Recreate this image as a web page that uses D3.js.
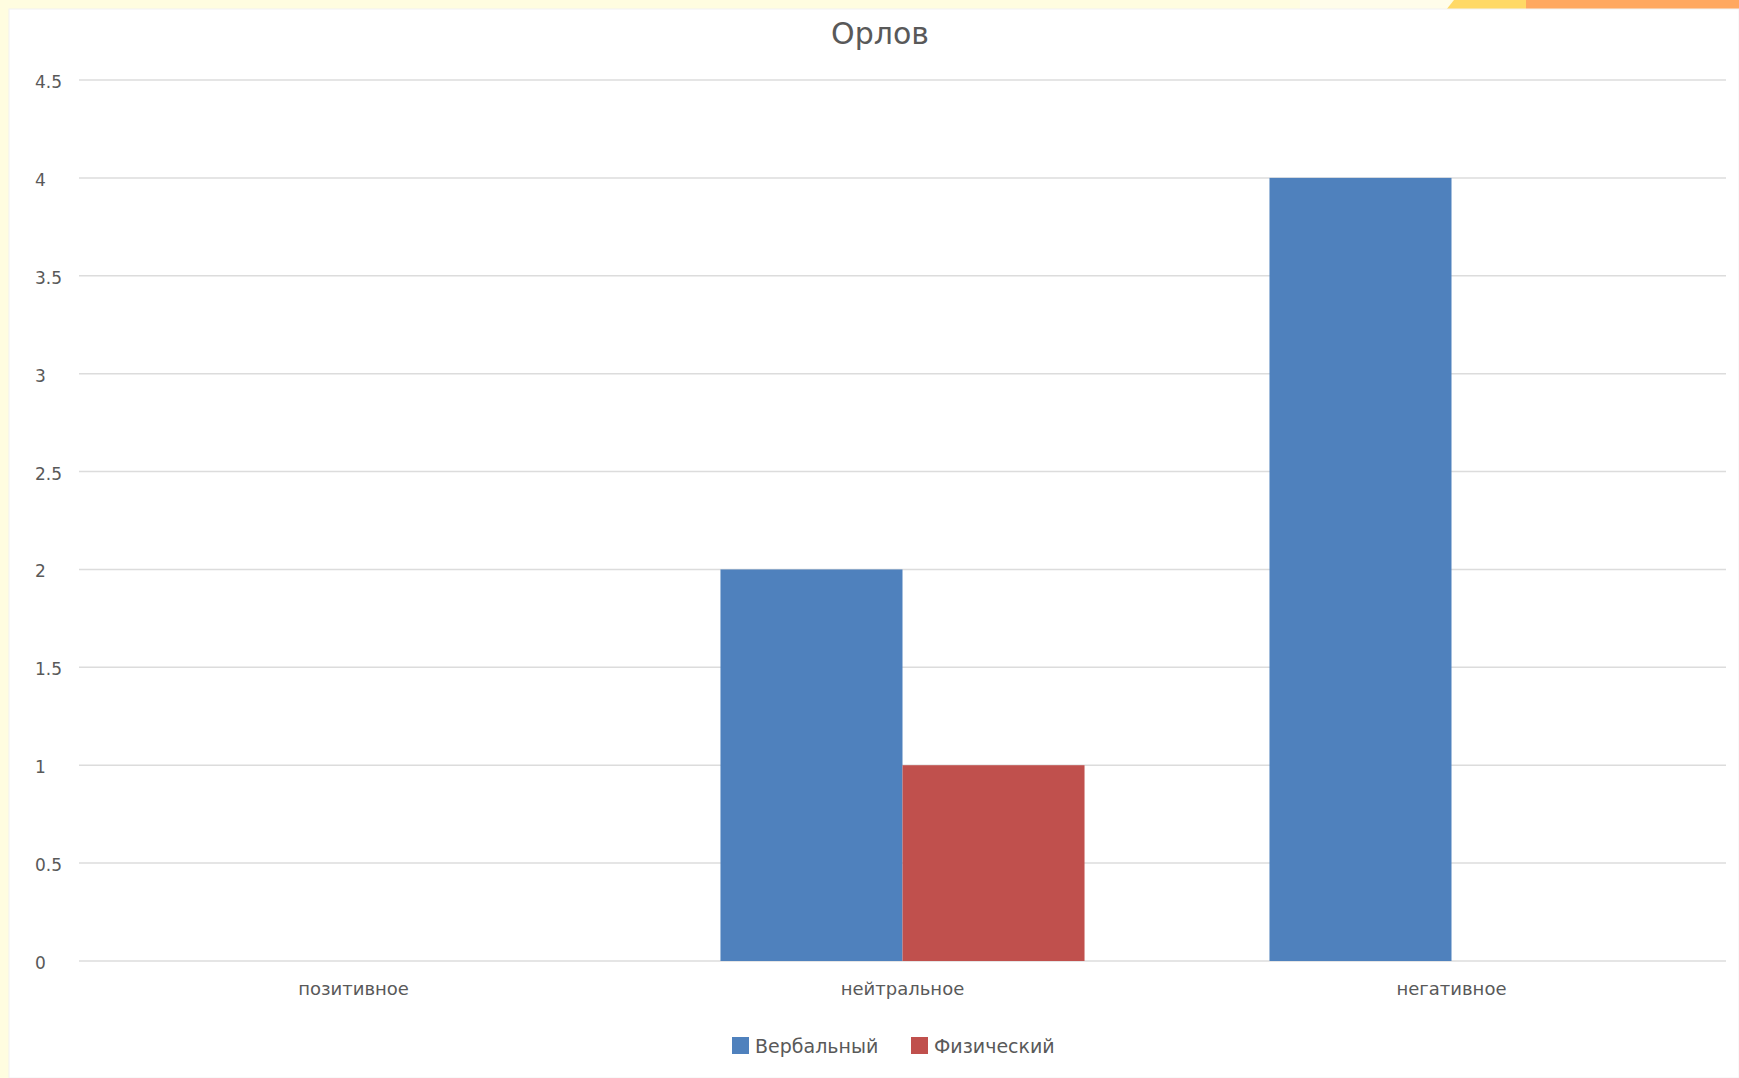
<!DOCTYPE html>
<html>
<head>
<meta charset="utf-8">
<script src="https://cdn.jsdelivr.net/npm/d3@7"></script>
<style>
  html, body { margin: 0; padding: 0; background: #fffde3; }
  svg { display: block; }
</style>
</head>
<body>
<svg id="chart"></svg>
<script>
// data
const categories = ['позитивное', 'нейтральное', 'негативное'];
const seriesNames = ['Вербальный', 'Физический'];
const verbalValues = [0, 2, 4];
const physicalValues = [0, 1, 0];
const yTicks = [0, 0.5, 1, 1.5, 2, 2.5, 3, 3.5, 4, 4.5];
const chartTitle = 'Орлов';

const W = 1739, H = 1078;
const colors = { 'Вербальный': '#4f81bd', 'Физический': '#c0504d' };
const FONT = '"DejaVu Sans", Verdana, sans-serif';

const svg = d3.select('#chart')
    .attr('width', W)
    .attr('height', H);

// slide background: yellow frame + corner decoration
svg.append('rect')
    .attr('x', 0).attr('y', 0).attr('width', W).attr('height', H)
    .attr('fill', '#fffde0');
svg.append('rect')
    .attr('x', 1300).attr('y', 0).attr('width', 150).attr('height', 10)
    .attr('fill', '#fffdea');
svg.append('path')
    .attr('d', 'M1454,0 L1530,0 L1530,10 L1446,10 Z')
    .attr('fill', '#ffd966');
svg.append('rect')
    .attr('x', 1526).attr('y', 0).attr('width', W - 1526).attr('height', 10)
    .attr('fill', '#ffa860');

// white chart panel
svg.append('rect')
    .attr('x', 9).attr('y', 9).attr('width', W - 9).attr('height', H - 9)
    .attr('fill', '#ffffff')
    .attr('stroke', '#f2f2f2');

const plot = { left: 79, right: 1726, top: 80, bottom: 961 };

const x0 = d3.scaleBand()
    .domain(categories)
    .range([plot.left, plot.right])
    .paddingInner(0).paddingOuter(0);

const x1 = d3.scaleBand()
    .domain(seriesNames)
    .range([0, x0.bandwidth()])
    .paddingInner(0).paddingOuter(0.508);

const y = d3.scaleLinear()
    .domain([0, 4.5])
    .range([plot.bottom, plot.top]);

// gridlines
svg.append('g')
    .selectAll('line')
    .data(yTicks)
    .join('line')
    .attr('x1', plot.left).attr('x2', plot.right)
    .attr('y1', d => y(d)).attr('y2', d => y(d))
    .attr('stroke', '#dcdcdc')
    .attr('stroke-width', 1.5);

// y tick labels (left aligned like the original)
svg.append('g')
    .selectAll('text')
    .data(yTicks)
    .join('text')
    .attr('x', 35)
    .attr('y', d => y(d) + 3)
    .attr('dominant-baseline', 'middle')
    .attr('font-family', FONT)
    .attr('font-size', 17)
    .attr('fill', '#595959')
    .text(d => String(d));

// bars
const rows = categories.map((c, i) => ({
  category: c,
  values: [
    { name: seriesNames[0], value: verbalValues[i] },
    { name: seriesNames[1], value: physicalValues[i] }
  ]
}));

const groups = svg.append('g')
    .selectAll('g')
    .data(rows)
    .join('g')
    .attr('transform', d => `translate(${x0(d.category)},0)`);

groups.selectAll('rect')
    .data(d => d.values)
    .join('rect')
    .attr('x', d => x1(d.name))
    .attr('width', x1.bandwidth())
    .attr('y', d => y(d.value))
    .attr('height', d => y(0) - y(d.value))
    .attr('fill', d => colors[d.name]);

// category labels
svg.append('g')
    .selectAll('text')
    .data(categories)
    .join('text')
    .attr('x', d => x0(d) + x0.bandwidth() / 2)
    .attr('y', 990)
    .attr('text-anchor', 'middle')
    .attr('dominant-baseline', 'middle')
    .attr('font-family', FONT)
    .attr('font-size', 18)
    .attr('fill', '#595959')
    .text(d => d);

// title
svg.append('text')
    .attr('x', 880)
    .attr('y', 35)
    .attr('text-anchor', 'middle')
    .attr('dominant-baseline', 'middle')
    .attr('font-family', FONT)
    .attr('font-size', 30)
    .attr('fill', '#595959')
    .text(chartTitle);

// legend
const legendX = [732, 911];
const legend = svg.append('g')
    .selectAll('g')
    .data(seriesNames)
    .join('g')
    .attr('transform', (d, i) => `translate(${legendX[i]},1037)`);
legend.append('rect')
    .attr('width', 17).attr('height', 17)
    .attr('fill', d => colors[d]);
legend.append('text')
    .attr('x', 23)
    .attr('y', 10)
    .attr('dominant-baseline', 'middle')
    .attr('font-family', FONT)
    .attr('font-size', 19)
    .attr('fill', '#595959')
    .text(d => d);
</script>
</body>
</html>
